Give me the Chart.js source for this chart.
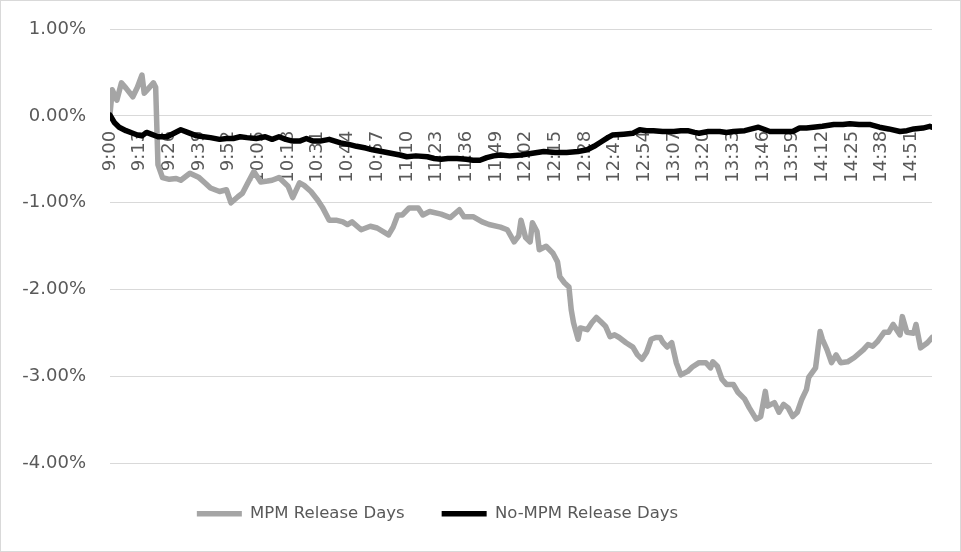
<!DOCTYPE html>
<html>
<head>
<meta charset="utf-8">
<script src="https://cdn.jsdelivr.net/npm/chart.js@4/dist/chart.umd.min.js"></script>
<style>
  body { margin: 0; background: #fff; }
  #wrap { width: 959px; height: 550px; border: 1px solid #d9d9d9; }
</style>
</head>
<body>
<div id="wrap"><canvas id="myChart"></canvas></div>
<script>
// minutes after 9:00 and return in %
const tickLabels = ["9:00", "9:13", "9:26", "9:39", "9:52", "10:05", "10:18", "10:31", "10:44", "10:57",
  "11:10", "11:23", "11:36", "11:49", "12:02", "12:15", "12:28", "12:41", "12:54", "13:07",
  "13:20", "13:33", "13:46", "13:59", "14:12", "14:25", "14:38", "14:51"];

const mpmMinutes = [0, 1, 3, 5, 7, 10, 12, 14, 15, 17, 19, 20, 21, 23, 26, 29, 31, 35, 39, 42,
  44, 48, 51, 53, 56, 58, 60, 63, 66, 69, 71, 74, 78, 80, 83, 85, 88, 91, 93, 96,
  99, 102, 104, 106, 110, 114, 117, 122, 124, 126, 128, 131, 135, 137, 140, 145, 149, 153, 155, 159,
  163, 166, 171, 174, 177, 179, 180, 182, 184, 185, 187, 188, 191, 194, 196, 197, 199, 201, 202, 203,
  205, 206, 209, 211, 213, 215, 217, 219, 221, 223, 226, 229, 231, 233, 235, 237, 239, 241, 242, 244,
  246, 248, 250, 253, 255, 258, 261, 263, 264, 266, 268, 270, 273, 275, 278, 280, 283, 285, 287, 288,
  291, 293, 295, 297, 299, 301, 303, 305, 306, 309, 311, 312, 314, 316, 318, 320, 323, 326, 330, 332,
  334, 336, 339, 341, 343, 346, 347, 349, 352, 353, 355, 358, 360];
const mpmValues = [0.02, 0.30, 0.18, 0.38, 0.32, 0.22, 0.33, 0.47, 0.26, 0.32, 0.38, 0.33, -0.56, -0.71, -0.73, -0.72, -0.74, -0.66, -0.71, -0.78,
  -0.83, -0.87, -0.85, -1.00, -0.93, -0.89, -0.79, -0.64, -0.76, -0.75, -0.74, -0.71, -0.81, -0.94, -0.77, -0.80, -0.87, -0.97, -1.05, -1.20,
  -1.20, -1.22, -1.25, -1.22, -1.31, -1.27, -1.29, -1.37, -1.28, -1.14, -1.14, -1.06, -1.06, -1.14, -1.10, -1.13, -1.17, -1.08, -1.16, -1.16,
  -1.22, -1.25, -1.28, -1.31, -1.45, -1.38, -1.20, -1.40, -1.45, -1.23, -1.33, -1.54, -1.50, -1.58, -1.68, -1.85, -1.92, -1.97, -2.23, -2.38,
  -2.57, -2.44, -2.46, -2.38, -2.32, -2.37, -2.42, -2.54, -2.52, -2.55, -2.61, -2.66, -2.75, -2.80, -2.72, -2.57, -2.55, -2.55, -2.60, -2.66,
  -2.61, -2.84, -2.98, -2.94, -2.89, -2.84, -2.84, -2.90, -2.83, -2.88, -3.03, -3.09, -3.09, -3.18, -3.26, -3.36, -3.49, -3.46, -3.17, -3.34,
  -3.30, -3.41, -3.32, -3.36, -3.46, -3.41, -3.26, -3.15, -3.01, -2.90, -2.48, -2.57, -2.69, -2.84, -2.75, -2.84, -2.83, -2.78, -2.69, -2.63,
  -2.65, -2.60, -2.49, -2.49, -2.40, -2.52, -2.31, -2.49, -2.50, -2.40, -2.67, -2.61, -2.55];

const noMpmMinutes = [0, 2, 4, 7, 10, 12, 14, 16, 18, 21, 25, 28, 31, 34, 38, 41, 44, 48, 51, 54,
  57, 60, 64, 68, 71, 74, 77, 80, 83, 86, 89, 92, 96, 101, 105, 108, 112, 115, 119, 123,
  127, 130, 134, 139, 142, 145, 148, 152, 156, 159, 162, 165, 168, 171, 175, 180, 185, 190, 195, 200,
  205, 209, 212, 215, 218, 220, 225, 229, 232, 235, 238, 242, 247, 250, 253, 256, 258, 262, 267, 270,
  273, 278, 281, 284, 287, 289, 294, 299, 302, 305, 308, 312, 317, 321, 324, 328, 333, 337, 341, 346,
  349, 352, 356, 359, 360];
const noMpmValues = [0.01, -0.08, -0.13, -0.17, -0.20, -0.22, -0.23, -0.19, -0.21, -0.24, -0.24, -0.20, -0.16, -0.19, -0.23, -0.24, -0.25, -0.27, -0.26, -0.26,
  -0.24, -0.25, -0.26, -0.24, -0.27, -0.24, -0.27, -0.29, -0.29, -0.26, -0.29, -0.29, -0.27, -0.31, -0.33, -0.35, -0.37, -0.39, -0.41, -0.43,
  -0.45, -0.47, -0.46, -0.47, -0.49, -0.50, -0.49, -0.49, -0.50, -0.51, -0.51, -0.48, -0.46, -0.45, -0.46, -0.45, -0.43, -0.41, -0.42, -0.42,
  -0.41, -0.39, -0.35, -0.30, -0.25, -0.22, -0.21, -0.20, -0.16, -0.17, -0.17, -0.18, -0.18, -0.17, -0.17, -0.19, -0.20, -0.18, -0.18, -0.19,
  -0.18, -0.17, -0.15, -0.13, -0.16, -0.18, -0.18, -0.18, -0.14, -0.14, -0.13, -0.12, -0.10, -0.10, -0.09, -0.10, -0.10, -0.13, -0.15, -0.18,
  -0.17, -0.15, -0.14, -0.12, -0.13];

const toPoints = (xs, ys) => xs.map((m, i) => ({ x: m, y: ys[i] }));

const textColor = "#595959";
const gridColor = "#d9d9d9";

// la légende Excel est un peu décalée à gauche et plus bas
const moveLegend = {
  id: "moveLegend",
  afterLayout(chart) {
    const l = chart.legend;
    l.left -= 29;
    l.right -= 29;
    l.top += 5;
    l.bottom += 5;
  },
};

const chart = new Chart(document.getElementById("myChart"), {
  type: "line",
  data: {
    datasets: [
      {
        label: "MPM Release Days",
        data: toPoints(mpmMinutes, mpmValues),
        borderColor: "#a5a5a5",
        borderWidth: 5.5,
        borderCapStyle: "round",
        borderJoinStyle: "round",
        pointRadius: 0,
        order: 2,
      },
      {
        label: "No-MPM Release Days",
        data: toPoints(noMpmMinutes, noMpmValues),
        borderColor: "#000000",
        borderWidth: 5.5,
        borderCapStyle: "round",
        borderJoinStyle: "round",
        pointRadius: 0,
        order: 1,
      },
    ],
  },
  options: {
    responsive: true,
    maintainAspectRatio: false,
    animation: false,
    layout: { padding: { left: 0, top: 28, right: 28, bottom: 24 } },
    scales: {
      x: {
        type: "linear",
        min: 0,
        max: 360,
        position: { y: 0 },
        afterFit(scale) {
          scale.paddingTop = 0;
          scale.paddingBottom = 0;
          scale.paddingLeft = 0;
          scale.paddingRight = 0;
        },
        grid: { display: false, drawTicks: false },
        border: { display: false },
        ticks: {
          stepSize: 13,
          includeBounds: false,
          autoSkip: false,
          minRotation: 90,
          maxRotation: 90,
          padding: 15,
          color: textColor,
          font: { family: "DejaVu Sans", size: 18 },
          callback: (v) => tickLabels[Math.round(v / 13)],
        },
      },
      y: {
        min: -4,
        max: 1,
        afterFit(scale) {
          scale.width = 109;
          scale.paddingTop = 0;
          scale.paddingBottom = 0;
        },
        grid: { color: gridColor, drawTicks: false },
        border: { display: false },
        ticks: {
          stepSize: 1,
          padding: 24,
          color: textColor,
          font: { family: "DejaVu Sans", size: 18 },
          callback: (v) => v.toFixed(2) + "%",
        },
      },
    },
    plugins: {
      legend: {
        position: "bottom",
        labels: {
          usePointStyle: true,
          pointStyle: "line",
          pointStyleWidth: 45,
          padding: 37,
          color: textColor,
          font: { family: "DejaVu Sans", size: 16.5 },
          sort: (a, b) => a.datasetIndex - b.datasetIndex,
        },
      },
      tooltip: { enabled: false },
    },
  },
  plugins: [moveLegend],
});
</script>
</body>
</html>
